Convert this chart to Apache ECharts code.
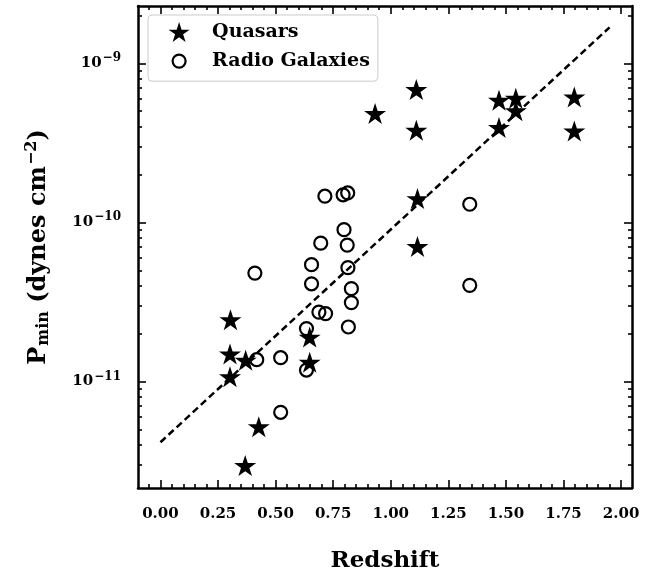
<!DOCTYPE html>
<html><head><meta charset="utf-8">
<script src="https://cdn.jsdelivr.net/npm/echarts@6/dist/echarts.min.js"></script>
<style>html,body{margin:0;padding:0;background:#fff}#c{width:645px;height:576px}</style>
</head><body><div id="c"></div>
<script>
// ---- data ----
const quasarZ = [0.302, 0.302, 0.304, 0.370, 0.368, 0.427, 0.648, 0.648, 0.932, 1.111, 1.111, 1.116, 1.116, 1.470, 1.470, 1.543, 1.543, 1.797, 1.797];
const quasarP = [1.49e-11, 1.07e-11, 2.44e-11, 1.36e-11, 2.96e-12, 5.2e-12, 1.9e-11, 1.32e-11, 4.83e-10, 6.83e-10, 3.79e-10, 1.41e-10, 7.06e-11, 5.85e-10, 3.95e-10, 6.03e-10, 5.03e-10, 6.14e-10, 3.75e-10];
const galaxyZ = [0.410, 0.418, 0.522, 0.522, 0.634, 0.634, 0.656, 0.656, 0.688, 0.696, 0.714, 0.717, 0.793, 0.797, 0.811, 0.813, 0.814, 0.816, 0.829, 0.829, 1.343, 1.343];
const galaxyP = [4.8e-11, 1.37e-11, 1.41e-11, 6.4e-12, 2.15e-11, 1.18e-11, 5.42e-11, 4.11e-11, 2.73e-11, 7.4e-11, 1.46e-10, 2.67e-11, 1.49e-10, 9.0e-11, 7.2e-11, 1.53e-10, 5.19e-11, 2.2e-11, 3.83e-11, 3.13e-11, 1.30e-10, 4.02e-11];
const fitZ = [0.0, 1.95];
const fitP = [4.15e-12, 1.68e-9];

const xMajorTicks = [0, 0.25, 0.5, 0.75, 1.0, 1.25, 1.5, 1.75, 2.0];
const xTickLabels = ['0.00', '0.25', '0.50', '0.75', '1.00', '1.25', '1.50', '1.75', '2.00'];
const xMinorTicks = [-0.05, 0.05, 0.1, 0.15, 0.2, 0.3, 0.35, 0.4, 0.45, 0.55, 0.6, 0.65, 0.7, 0.8, 0.85, 0.9, 0.95,
  1.05, 1.1, 1.15, 1.2, 1.3, 1.35, 1.4, 1.45, 1.55, 1.6, 1.65, 1.7, 1.8, 1.85, 1.9, 1.95];
const yMajorTicks = [1e-11, 1e-10, 1e-9];
const yTickExponents = ['\u221211', '\u221210', '\u22129'];
const yMinorTicks = [3e-12, 4e-12, 5e-12, 6e-12, 7e-12, 8e-12, 9e-12,
  2e-11, 3e-11, 4e-11, 5e-11, 6e-11, 7e-11, 8e-11, 9e-11,
  2e-10, 3e-10, 4e-10, 5e-10, 6e-10, 7e-10, 8e-10, 9e-10, 2e-9];

const seriesNames = ['Quasars', 'Radio Galaxies'];
const xTitle = 'Redshift';

// ---- layout / style ----
const XMIN = -0.0975, XMAX = 2.0475;
const YMIN = 2.14e-12, YMAX = 2.29e-9;
const FONT = 'DejaVu Serif';
const STAR = 'path://M0,-100 L22.45,-30.9 L95.1,-30.9 L36.33,11.8 L58.8,80.9 L0,38.2 L-58.8,80.9 L-36.33,11.8 L-95.1,-30.9 L-22.45,-30.9 Z';
const RING = 'path://M-65,0 A65,65 0 1 1 65,0 A65,65 0 1 1 -65,0 Z M-100,-100 L-100,-100 M100,100 L100,100';

function xFmt(v) {
  for (let i = 0; i < xMajorTicks.length; i++) if (Math.abs(xMajorTicks[i] - v) < 1e-9) return xTickLabels[i];
  return '';
}
function yFmt(v) {
  for (let i = 0; i < yMajorTicks.length; i++)
    if (Math.abs(Math.log10(yMajorTicks[i]) - Math.log10(v)) < 1e-6) return '{b|10}{s|' + yTickExponents[i] + '}';
  return '';
}

function xAx(pos, major, withLabel) {
  return {
    type: 'value', gridIndex: 0, position: pos, offset: 0, min: XMIN, max: XMAX,
    axisLine: { show: major, onZero: false, lineStyle: { color: '#000', width: 2.5 } },
    axisTick: { show: true, inside: true, length: major ? 8 : 4, lineStyle: { color: '#000', width: 1.6 },
      customValues: major ? xMajorTicks : xMinorTicks },
    axisLabel: withLabel ? { show: true, customValues: xMajorTicks, formatter: xFmt, margin: 19,
      fontFamily: FONT, fontWeight: 'bold', fontSize: 15, color: '#000' } : { show: false },
    splitLine: { show: false }
  };
}
function yAx(pos, major, withLabel) {
  return {
    type: 'log', logBase: 10, gridIndex: 0, position: pos, offset: 0, min: YMIN, max: YMAX,
    axisLine: { show: major, onZero: false, lineStyle: { color: '#000', width: 2.5 } },
    axisTick: { show: true, inside: true, length: major ? 8 : 4, lineStyle: { color: '#000', width: 1.6 },
      customValues: major ? yMajorTicks : yMinorTicks },
    axisLabel: withLabel ? { show: true, customValues: yMajorTicks, formatter: yFmt, margin: 17,
      color: '#000',
      rich: {
        b: { fontFamily: FONT, fontWeight: 'bold', fontSize: 15, color: '#000' },
        s: { fontFamily: FONT, fontWeight: 'bold', fontSize: 12, color: '#000', padding: [0, 0, 10, 1] }
      } } : { show: false },
    splitLine: { show: false }
  };
}

const xa0 = xAx('bottom', true, true);
xa0.name = xTitle; xa0.nameLocation = 'middle'; xa0.nameGap = 62;
xa0.nameTextStyle = { fontFamily: FONT, fontWeight: 'bold', fontSize: 23, color: '#000' };
const ya0 = yAx('left', true, true);
ya0.name = '{n|P}{sub|min}{n| (dynes cm}{sup|\u22122}{n|)}';
ya0.nameLocation = 'middle'; ya0.nameGap = 85;
ya0.nameTextStyle = {
  color: '#000',
  rich: {
    n: { fontFamily: FONT, fontWeight: 'bold', fontSize: 24, color: '#000' },
    sub: { fontFamily: FONT, fontWeight: 'bold', fontSize: 16, color: '#000', padding: [11, 0, 0, 1] },
    sup: { fontFamily: FONT, fontWeight: 'bold', fontSize: 16, color: '#000', padding: [0, 0, 13, 1] }
  }
};

const option = {
  animation: false,
  backgroundColor: '#fff',
  grid: { left: 138, right: 13, top: 6, bottom: 88, containLabel: false, outerBoundsMode: 'none' },
  xAxis: [xa0, xAx('bottom', false, false), xAx('top', true, false), xAx('top', false, false)],
  yAxis: [ya0, yAx('left', false, false), yAx('right', true, false), yAx('right', false, false)],
  legend: {
    orient: 'vertical', left: 148, top: 15,
    padding: [7, 8, 9, 20], itemWidth: 56, itemHeight: 20, itemGap: 8,
    backgroundColor: 'rgba(255,255,255,0.8)', borderColor: '#cccccc', borderWidth: 1, borderRadius: 4,
    textStyle: { fontFamily: FONT, fontWeight: 'bold', fontSize: 19, color: '#000' },
    data: [
      { name: seriesNames[0], icon: STAR, itemStyle: { color: '#000', borderWidth: 0 } },
      { name: seriesNames[1], icon: RING, itemStyle: { color: 'rgba(0,0,0,0)', borderColor: '#000', borderWidth: 2.2 } }
    ]
  },
  series: [
    {
      name: seriesNames[0], type: 'scatter', xAxisIndex: 0, yAxisIndex: 0,
      symbol: STAR, symbolSize: [22, 21],
      itemStyle: { color: '#000', opacity: 1 },
      data: quasarZ.map((z, i) => [z, quasarP[i]])
    },
    {
      name: seriesNames[1], type: 'scatter', xAxisIndex: 0, yAxisIndex: 0,
      symbol: 'circle', symbolSize: 13,
      itemStyle: { color: 'rgba(0,0,0,0)', borderColor: '#000', borderWidth: 2.2, opacity: 1 },
      data: galaxyZ.map((z, i) => [z, galaxyP[i]])
    },
    {
      name: 'fit', type: 'line', xAxisIndex: 0, yAxisIndex: 0,
      symbol: 'none', showSymbol: false, silent: true,
      lineStyle: { color: '#000', width: 2.5, type: [7, 4] },
      data: fitZ.map((z, i) => [z, fitP[i]])
    }
  ]
};
const chart = echarts.init(document.getElementById('c'), null, { renderer: 'canvas' });
chart.setOption(option);
</script></body></html>
